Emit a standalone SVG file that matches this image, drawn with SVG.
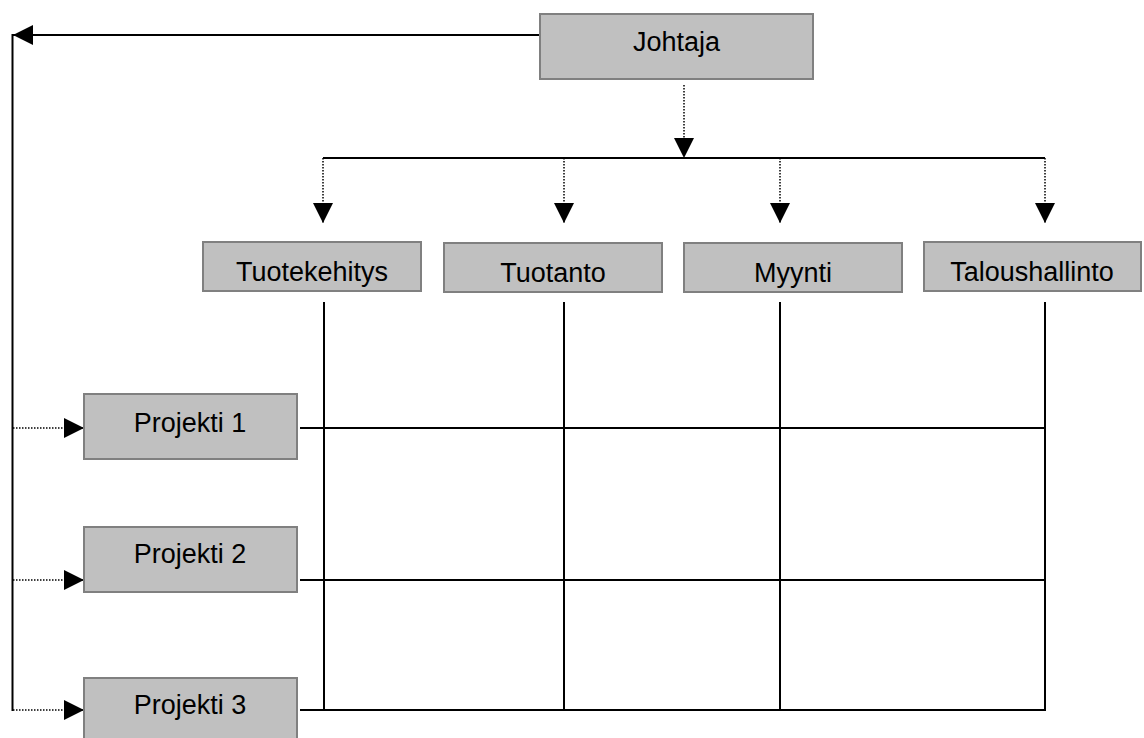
<svg xmlns="http://www.w3.org/2000/svg" width="1144" height="738" viewBox="0 0 1144 738">
  <style>
    .box { fill: #c0c0c0; stroke: #808080; stroke-width: 2; }
    .lbl { font-family: "Liberation Sans", Arial, sans-serif; font-size: 27px; fill: #000; text-anchor: middle; }
    .ln { stroke: #000; stroke-width: 2; fill: none; }
    .dot { stroke: #000; stroke-width: 1.5; stroke-dasharray: 1.5 1.5; fill: none; }
  </style>
  <defs>
    <marker id="arr" viewBox="0 0 20 20" refX="20" refY="10" markerWidth="20" markerHeight="20" markerUnits="userSpaceOnUse" orient="auto">
      <path d="M0,0 L20,10 L0,20 Z" fill="#000"/>
    </marker>
  </defs>
  <rect width="1144" height="738" fill="#fff"/>

  <g id="connectors">
    <line class="ln" x1="540" y1="35" x2="13" y2="35" marker-end="url(#arr)"/>
    <line class="ln" x1="12.5" y1="34" x2="12.5" y2="711"/>
    <line class="dot" x1="684" y1="85" x2="684" y2="158" marker-end="url(#arr)"/>
    <line class="ln" x1="323" y1="158" x2="1045" y2="158"/>
    <line class="dot" x1="323" y1="158" x2="323" y2="223" marker-end="url(#arr)"/>
    <line class="dot" x1="564" y1="158" x2="564" y2="223" marker-end="url(#arr)"/>
    <line class="dot" x1="780" y1="158" x2="780" y2="223" marker-end="url(#arr)"/>
    <line class="dot" x1="1045" y1="158" x2="1045" y2="223" marker-end="url(#arr)"/>
    <line class="ln" x1="324" y1="302" x2="324" y2="711"/>
    <line class="ln" x1="564" y1="302" x2="564" y2="711"/>
    <line class="ln" x1="780" y1="302" x2="780" y2="711"/>
    <line class="ln" x1="1045" y1="302" x2="1045" y2="711"/>
    <line class="ln" x1="300" y1="428" x2="1045" y2="428"/>
    <line class="ln" x1="300" y1="580" x2="1045" y2="580"/>
    <line class="ln" x1="300" y1="710" x2="1045" y2="710"/>
    <line class="dot" x1="13" y1="428" x2="84" y2="428" marker-end="url(#arr)"/>
    <line class="dot" x1="13" y1="580" x2="84" y2="580" marker-end="url(#arr)"/>
    <line class="dot" x1="13" y1="710" x2="84" y2="710" marker-end="url(#arr)"/>
  </g>

  <g id="johtaja">
    <rect class="box" x="540" y="14" width="273" height="65"/>
    <text class="lbl" x="676.5" y="51">Johtaja</text>
  </g>
  <g id="tuotekehitys">
    <rect class="box" x="203" y="242" width="218" height="49"/>
    <text class="lbl" x="312" y="281">Tuotekehitys</text>
  </g>
  <g id="tuotanto">
    <rect class="box" x="444" y="243" width="218" height="49"/>
    <text class="lbl" x="553" y="282">Tuotanto</text>
  </g>
  <g id="myynti">
    <rect class="box" x="684" y="243" width="218" height="49"/>
    <text class="lbl" x="793" y="282">Myynti</text>
  </g>
  <g id="taloushallinto">
    <rect class="box" x="924" y="242" width="217" height="49"/>
    <text class="lbl" x="1032" y="281">Taloushallinto</text>
  </g>
  <g id="projekti1">
    <rect class="box" x="84" y="394" width="213" height="65"/>
    <text class="lbl" x="190" y="432">Projekti 1</text>
  </g>
  <g id="projekti2">
    <rect class="box" x="84" y="527" width="213" height="65"/>
    <text class="lbl" x="190" y="563">Projekti 2</text>
  </g>
  <g id="projekti3">
    <rect class="box" x="84" y="678" width="213" height="65"/>
    <text class="lbl" x="190" y="714">Projekti 3</text>
  </g>
</svg>
